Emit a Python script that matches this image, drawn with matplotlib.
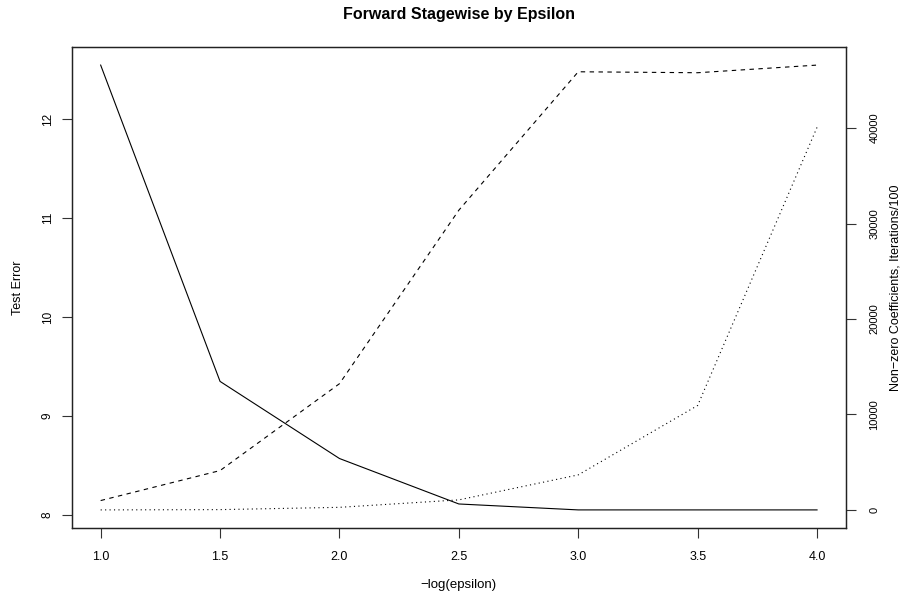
import numpy as np
import matplotlib
matplotlib.use("Agg")
import matplotlib.pyplot as plt

plt.rcParams['font.family'] = ['Liberation Sans', 'DejaVu Sans']

# ----------------------------
# Data
# ----------------------------
neg_log_eps = [1.0, 1.5, 2.0, 2.5, 3.0, 3.5, 4.0]
test_error = [12.55, 9.35, 8.57, 8.11, 8.05, 8.05, 8.05]
nonzero_coefs = [980, 4120, 13220, 31400, 45900, 45800, 46600]
iters_100 = [0, 30, 270, 1050, 3670, 10940, 40080]

left_ticks = [8, 9, 10, 11, 12]
right_ticks = [0, 10000, 20000, 30000, 40000]
x_ticks = [1.0, 1.5, 2.0, 2.5, 3.0, 3.5, 4.0]


def r_lim(vals):
    # R style 4% padding
    lo, hi = min(vals), max(vals)
    d = (hi - lo) * 0.04
    return lo - d, hi + d


fig = plt.figure(figsize=(9.09, 5.92), dpi=100)
ax = fig.add_axes([72 / 909, 1 - 527.7 / 592, (845.7 - 72) / 909, (527.7 - 47.3) / 592])

ax.plot(neg_log_eps, test_error, color='black', lw=0.8)
ax.set_xlim(r_lim(neg_log_eps))
ax.set_ylim(r_lim(test_error))
ax.set_xticks(x_ticks)
ax.set_xticklabels(['%.1f' % v for v in x_ticks])
ax.set_yticks(left_ticks)
ax.set_yticklabels([str(v) for v in left_ticks], rotation=90, va='center')
ax.tick_params(axis='both', direction='out', length=7, width=0.8, color='#333333')
ax.tick_params(axis='x', pad=9.5, labelsize=9)
ax.tick_params(axis='y', pad=6, labelsize=8.5)
ax.set_xlabel('\u2212log(epsilon)', fontsize=9.5, labelpad=12)
ax.set_ylabel('Test Error', fontsize=9, labelpad=13)

ax2 = ax.twinx()
ax2.plot(neg_log_eps, nonzero_coefs, color='black', lw=0.8, dashes=(4, 4))
ax2.plot(neg_log_eps, iters_100, color='black', lw=0.8, dashes=(1, 3))
ax2.set_ylim(r_lim(nonzero_coefs + iters_100))
ax2.set_yticks(right_ticks)
ax2.set_yticklabels([str(v) for v in right_ticks], rotation=90, va='center')
ax2.tick_params(axis='y', direction='out', length=7, width=0.8, labelsize=8, pad=10, color='#333333')
ax2.set_ylabel('Non\u2212zero Coefficients, Iterations/100', fontsize=9, labelpad=7)

for a in (ax, ax2):
    for s in a.spines.values():
        s.set_linewidth(0.9)
        s.set_color('#222222')

fig.suptitle('Forward Stagewise by Epsilon', x=(72 + 845.7) / 2 / 909, y=1 - 15 / 592,
             va='center', fontsize=11.5, fontweight='bold')

fig.savefig('out.png', dpi=100)
